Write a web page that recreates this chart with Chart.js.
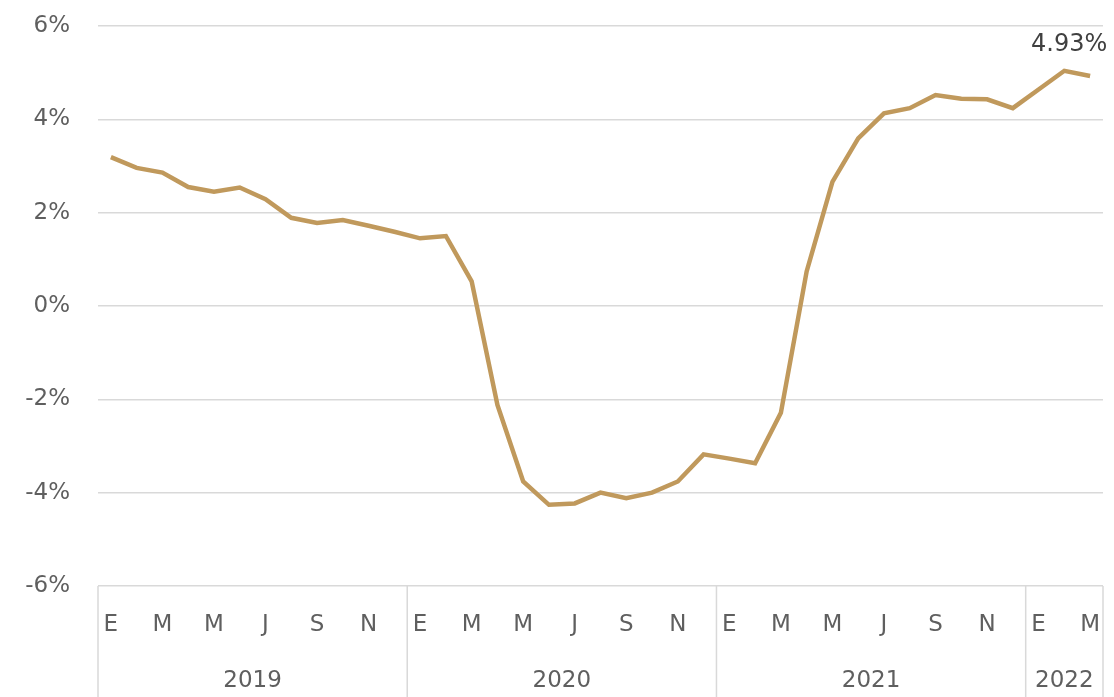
<!DOCTYPE html>
<html lang="es">
<head>
<meta charset="utf-8">
<script src="https://cdn.jsdelivr.net/npm/chart.js@4"></script>
<style>
    html, body { margin: 0; padding: 0; background: #ffffff; }
    #wrap { width: 1114px; height: 697px; position: relative; }
</style>
</head>
<body>
<div id="wrap"><canvas id="lineChart"></canvas></div>
<script>
// Meses (ene-2019 a mar-2022)
const categorias = [
    'ene-19', 'feb-19', 'mar-19', 'abr-19', 'may-19', 'jun-19', 'jul-19', 'ago-19', 'sep-19', 'oct-19', 'nov-19', 'dic-19',
    'ene-20', 'feb-20', 'mar-20', 'abr-20', 'may-20', 'jun-20', 'jul-20', 'ago-20', 'sep-20', 'oct-20', 'nov-20', 'dic-20',
    'ene-21', 'feb-21', 'mar-21', 'abr-21', 'may-21', 'jun-21', 'jul-21', 'ago-21', 'sep-21', 'oct-21', 'nov-21', 'dic-21',
    'ene-22', 'feb-22', 'mar-22'
];

// Etiquetas visibles del eje X (un mes de cada dos)
const etiquetasMes = [
    'E', '', 'M', '', 'M', '', 'J', '', 'S', '', 'N', '',
    'E', '', 'M', '', 'M', '', 'J', '', 'S', '', 'N', '',
    'E', '', 'M', '', 'M', '', 'J', '', 'S', '', 'N', '',
    'E', '', 'M'
];

const anios = ['2019', '2020', '2021', '2022'];
const mesesPorAnio = [12, 12, 12, 3];

// Variación anual (%)
const variacion = [
    3.19, 2.96, 2.86, 2.55, 2.45, 2.54, 2.29, 1.89, 1.78, 1.84, 1.72, 1.59,
    1.45, 1.50, 0.53, -2.12, -3.76, -4.26, -4.23, -4.00, -4.12, -4.00, -3.76, -3.18,
    -3.27, -3.37, -2.29, 0.74, 2.66, 3.59, 4.13, 4.24, 4.52, 4.44, 4.43, 4.24,
    4.64, 5.04, 4.93
];

const ticksY = [-6, -4, -2, 0, 2, 4, 6];

const fuente = '"DejaVu Sans", sans-serif';
const gris = '#5f5f5f';
const lineaGrid = '#d9d9d9';

// Plugin: separadores y etiquetas de años bajo el eje X
const aniosPlugin = {
    id: 'aniosPlugin',
    afterDraw(chart) {
        const ctx = chart.ctx;
        const x = chart.scales.x;
        const area = chart.chartArea;
        const paso = x.getPixelForValue(1) - x.getPixelForValue(0);
        ctx.save();
        ctx.strokeStyle = lineaGrid;
        ctx.lineWidth = 1.5;
        ctx.fillStyle = gris;
        ctx.font = '23px ' + fuente;
        ctx.textAlign = 'center';
        ctx.textBaseline = 'middle';
        let inicio = 0;
        anios.forEach((anio, i) => {
            const fin = inicio + mesesPorAnio[i];
            const x0 = x.getPixelForValue(inicio) - paso / 2;
            const x1 = x.getPixelForValue(fin - 1) + paso / 2;
            ctx.beginPath();
            ctx.moveTo(x0, area.bottom);
            ctx.lineTo(x0, chart.height);
            ctx.stroke();
            if (i === anios.length - 1) {
                ctx.beginPath();
                ctx.moveTo(x1, area.bottom);
                ctx.lineTo(x1, chart.height);
                ctx.stroke();
            }
            ctx.fillText(anio, (x0 + x1) / 2, 681);
            inicio = fin;
        });
        ctx.restore();
    }
};

// Plugin: etiqueta del último valor
const ultimoValorPlugin = {
    id: 'ultimoValorPlugin',
    afterDatasetsDraw(chart) {
        const meta = chart.getDatasetMeta(0);
        const pt = meta.data[meta.data.length - 1];
        const valor = variacion[variacion.length - 1];
        const ctx = chart.ctx;
        ctx.save();
        ctx.fillStyle = '#404040';
        ctx.font = '24px ' + fuente;
        ctx.textAlign = 'center';
        ctx.textBaseline = 'middle';
        ctx.fillText(valor.toFixed(2) + '%', pt.x - 21, pt.y - 31);
        ctx.restore();
    }
};

const ctx = document.getElementById('lineChart').getContext('2d');

new Chart(ctx, {
    type: 'line',
    data: {
        labels: categorias,
        datasets: [{
            data: variacion,
            borderColor: '#c0995c',
            borderWidth: 4.5,
            pointRadius: 0,
            tension: 0,
            fill: false
        }]
    },
    options: {
        responsive: true,
        maintainAspectRatio: false,
        animation: false,
        layout: { padding: { top: 26, right: 11, left: 0, bottom: 0 } },
        plugins: {
            legend: { display: false },
            tooltip: { enabled: false }
        },
        scales: {
            x: {
                offset: true,
                grid: { display: false, drawTicks: false },
                border: { display: false },
                ticks: {
                    autoSkip: false,
                    maxRotation: 0,
                    padding: 25,
                    color: gris,
                    font: { family: fuente, size: 23 },
                    callback: (v, i) => etiquetasMes[i]
                },
                afterFit: (scale) => {
                    scale.height = 111;
                    scale.paddingLeft = 0;
                    scale.paddingRight = 0;
                }
            },
            y: {
                min: ticksY[0],
                max: ticksY[ticksY.length - 1],
                grid: { color: lineaGrid, lineWidth: 1.5, drawTicks: false },
                border: { display: false },
                afterBuildTicks: (scale) => { scale.ticks = ticksY.map(v => ({ value: v })); },
                ticks: {
                    padding: 28,
                    color: gris,
                    font: { family: fuente, size: 23 },
                    callback: (v) => v + '%'
                },
                afterFit: (scale) => {
                    scale.width = 98;
                    scale.paddingTop = 0;
                    scale.paddingBottom = 0;
                }
            }
        }
    },
    plugins: [aniosPlugin, ultimoValorPlugin]
});
</script>
</body>
</html>
